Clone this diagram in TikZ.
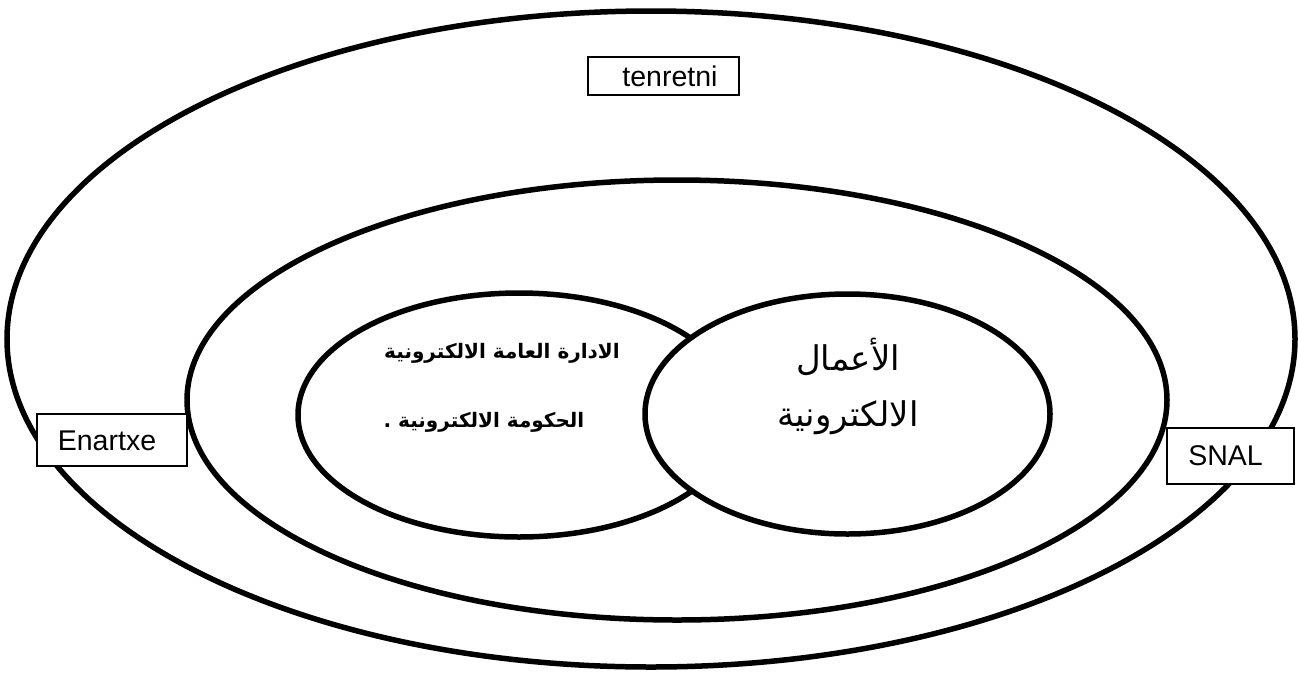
\documentclass[tikz,border=0pt]{standalone}
\usepackage{fontspec}
\setmainfont{Liberation Sans}
\newfontfamily\arabicfont[Script=Arabic]{DejaVu Sans}
\TeXXeTstate=1
\usetikzlibrary{shapes.geometric}
\tikzset{
  ring/.style={ellipse, draw=black, line width=5.5pt, inner sep=0pt},
  tagbox/.style={rectangle, draw=black, line width=1.4pt, fill=white, inner sep=0pt},
  tagtext/.style={font=\fontsize{28.5}{32}\selectfont, inner sep=0pt},
  bodytext/.style={font=\arabicfont\bfseries\fontsize{20}{24}\selectfont, inner sep=0pt},
  bigtext/.style={font=\arabicfont\fontsize{34}{40}\selectfont, inner sep=0pt}
}
\begin{document}
\begin{tikzpicture}[x=1pt,y=-1pt]
  \useasboundingbox (0,0) rectangle (1299,673);
  \fill[white] (0,0) rectangle (1299,673);

  % nested domains
  \node[ring, minimum width=1288pt, minimum height=656pt] (outer) at (651,339) {};
  \node[ring, minimum width=980pt, minimum height=440pt] (middle) at (677,400) {};
  \node[ring, minimum width=442pt, minimum height=244pt] (left) at (519,415) {};
  \node[ring, fill=white, minimum width=405pt, minimum height=240pt] (right) at (847.5,414) {};

  % text inside the inner ellipses
  \node[bodytext] (adm) at (502,353) {\beginR الادارة العامة الالكترونية\endR};
  \node[bodytext] (gov) at (484,422) {\beginR الحكومة الالكترونية .\endR};
  \node[bigtext] (biz1) at (848,357) {\beginR الأعمال\endR};
  \node[bigtext] (biz2) at (848,418) {\beginR الالكترونية\endR};

  % labelled boxes
  \node[tagbox, minimum width=151pt, minimum height=38pt] (netbox) at (663.5,76) {};
  \node[tagtext] (net) at (670,76) {tenretni};
  \node[tagbox, minimum width=150pt, minimum height=52pt] (extbox) at (112,440) {};
  \node[tagtext] (ext) at (107,441) {Enartxe};
  \node[tagbox, minimum width=127pt, minimum height=56pt] (lanbox) at (1230.5,456) {};
  \node[tagtext] (lan) at (1225.5,456) {SNAL};
\end{tikzpicture}
\end{document}
